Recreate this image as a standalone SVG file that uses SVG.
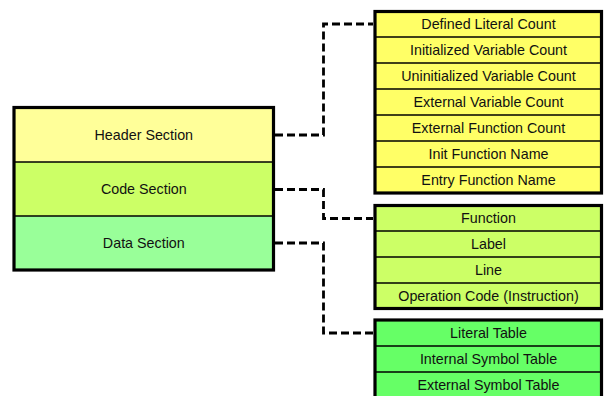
<svg xmlns="http://www.w3.org/2000/svg" width="606" height="396" viewBox="0 0 606 396">
<style>
text{font-family:"Liberation Sans",Arial,sans-serif;font-size:14.3px;fill:#111;text-anchor:middle}
.outer{fill:none;stroke:#000;stroke-width:3.2}
.div{stroke:#000;stroke-width:1.5}
.conn{fill:none;stroke:#000;stroke-width:2.8;stroke-dasharray:8,4}
</style>
<rect width="606" height="396" fill="#fff"/>
<g id="main">
<rect x="14" y="107.5" width="259.5" height="54.5" fill="#FFFF99"/>
<rect x="14" y="162" width="259.5" height="54" fill="#CCFF66"/>
<rect x="14" y="216" width="259.5" height="54" fill="#99FF99"/>
<line class="div" x1="14" y1="162" x2="273.5" y2="162"/>
<line class="div" x1="14" y1="216" x2="273.5" y2="216"/>
<rect class="outer" x="14" y="107.5" width="259.5" height="162.5"/>
<text x="143.8" y="140">Header Section</text>
<text x="143.8" y="194">Code Section</text>
<text x="143.8" y="248">Data Section</text>
</g>
<g id="header-fields">
<rect x="375" y="11.5" width="226.5" height="181.5" fill="#FFFF66"/>
<line class="div" x1="375" y1="37" x2="601.5" y2="37"/>
<line class="div" x1="375" y1="63" x2="601.5" y2="63"/>
<line class="div" x1="375" y1="89" x2="601.5" y2="89"/>
<line class="div" x1="375" y1="115" x2="601.5" y2="115"/>
<line class="div" x1="375" y1="141" x2="601.5" y2="141"/>
<line class="div" x1="375" y1="167" x2="601.5" y2="167"/>
<rect class="outer" x="375" y="11.5" width="226.5" height="181.5"/>
<text x="488.5" y="29">Defined Literal Count</text>
<text x="488.5" y="55">Initialized Variable Count</text>
<text x="488.5" y="81">Uninitialized Variable Count</text>
<text x="488.5" y="107">External Variable Count</text>
<text x="488.5" y="133">External Function Count</text>
<text x="488.5" y="159">Init Function Name</text>
<text x="488.5" y="185">Entry Function Name</text>
</g>
<g id="code-fields">
<rect x="375" y="205.5" width="226.5" height="103" fill="#CCFF66"/>
<line class="div" x1="375" y1="231" x2="601.5" y2="231"/>
<line class="div" x1="375" y1="257" x2="601.5" y2="257"/>
<line class="div" x1="375" y1="283" x2="601.5" y2="283"/>
<rect class="outer" x="375" y="205.5" width="226.5" height="103"/>
<text x="488.5" y="223">Function</text>
<text x="488.5" y="249">Label</text>
<text x="488.5" y="275">Line</text>
<text x="488.5" y="301">Operation Code (Instruction)</text>
</g>
<g id="data-fields">
<rect x="375" y="320" width="226.5" height="80" fill="#66FF66"/>
<line class="div" x1="375" y1="346" x2="601.5" y2="346"/>
<line class="div" x1="375" y1="372" x2="601.5" y2="372"/>
<rect class="outer" x="375" y="320" width="226.5" height="80"/>
<text x="488.5" y="338">Literal Table</text>
<text x="488.5" y="364">Internal Symbol Table</text>
<text x="488.5" y="390">External Symbol Table</text>
</g>
<g id="connectors">
<polyline class="conn" points="275,135 323.5,135 323.5,24 373,24"/>
<polyline class="conn" points="275,189.5 323.5,189.5 323.5,218.5 373,218.5"/>
<polyline class="conn" points="275,243 323.5,243 323.5,333 373,333"/>
</g>
</svg>
